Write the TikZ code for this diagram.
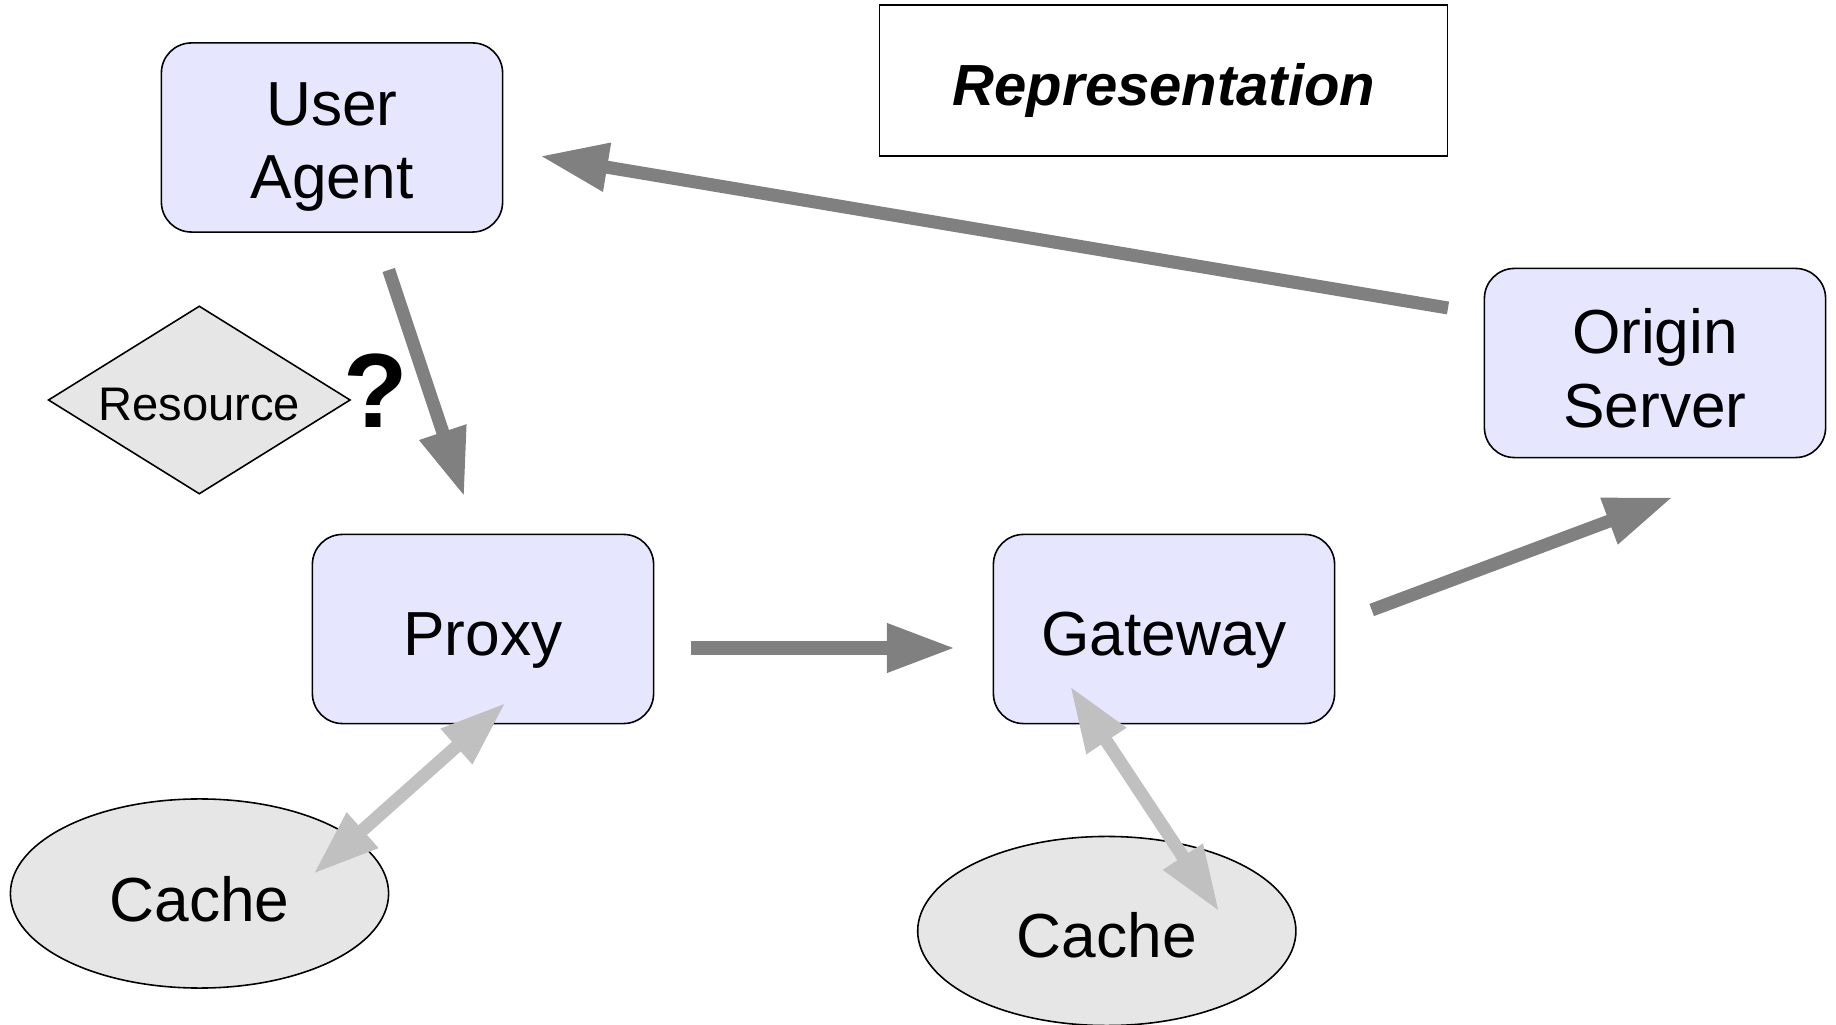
\documentclass[tikz,border=0pt]{standalone}
\usepackage{fontspec}
\setmainfont{Liberation Sans}
\usetikzlibrary{arrows.meta,shapes.geometric}

\definecolor{boxfill}{HTML}{E6E6FF}
\definecolor{greyfill}{HTML}{E6E6E6}
\definecolor{flowgrey}{HTML}{808080}
\definecolor{cachegrey}{HTML}{C0C0C0}

\begin{document}
\begin{tikzpicture}[x=0.01cm, y=-0.01cm,
  labelfont/.style={font=\fontsize{17.7pt}{21pt}\selectfont, inner sep=0pt, align=center},
  agent/.style={draw=black, line width=0.45pt, fill=boxfill,
    rounded corners=0.3cm, minimum width=3.41cm, minimum height=1.89cm,
    inner sep=0pt},
  store/.style={draw=black, line width=0.45pt, fill=greyfill,
    ellipse, minimum width=3.78cm, minimum height=1.89cm, inner sep=0pt},
  flow/.style={draw=flowgrey, line width=0.13cm,
    -{Triangle[length=0.68cm,width=0.46cm]}},
  cacheflow/.style={draw=cachegrey, line width=0.13cm,
    {Triangle[length=0.66cm,width=0.44cm]}-{Triangle[length=0.66cm,width=0.44cm]}},
]
  % canvas
  \useasboundingbox (0,0) rectangle (1836,1025);

  % message label
  \node[draw=black, line width=0.45pt, fill=white, minimum width=5.68cm,
        minimum height=1.51cm, inner sep=0pt] (repr) at (1163.5,80.5) {};
  \node[font=\fontsize{16.5pt}{19pt}\selectfont\bfseries\itshape,
        inner sep=0pt, anchor=base] (repr-text) at (1164,106) {Representation};

  % participants
  \node[agent] (ua)      at (332,137.5) {};
  \node[agent] (proxy)   at (483,629)   {};
  \node[agent] (gateway) at (1164,629)  {};
  \node[agent] (origin)  at (1655,363)  {};
  \node[labelfont] (ua-text)      at (332,147)  {User\\Agent};
  \node[labelfont] (origin-text)  at (1655,368) {Origin\\Server};
  \node[labelfont, anchor=base] (proxy-text)   at (483,656)  {Proxy};
  \node[labelfont, anchor=base] (gateway-text) at (1164,656) {Gateway};

  % resource being requested
  \node[diamond, aspect=1.6, draw=black, line width=0.45pt, fill=greyfill,
        minimum width=3.02cm, minimum height=1.88cm, inner sep=0pt]
        (resource) at (199.3,400) {};
  \node[font=\fontsize{13.4pt}{16pt}\selectfont, inner sep=0pt, anchor=base]
        (resource-text) at (199.3,421) {Resource};
  \node[font=\fontsize{30pt}{34pt}\selectfont\bfseries, inner sep=0pt, anchor=base]
        (query) at (375.5,428) {?};

  % caches
  \node[store] (cacheA) at (199.5,893.5) {};
  \node[store] (cacheB) at (1106.8,931)  {};
  \node[labelfont, anchor=base] (cacheA-text) at (199.5,921)  {Cache};
  \node[labelfont, anchor=base] (cacheB-text) at (1106.8,958) {Cache};

  % free ends of the connectors
  \coordinate (reqFrom)   at (388.7,270);
  \coordinate (reqTo)     at (464.3,496.7);
  \coordinate (fwdFrom)   at (691,648);
  \coordinate (fwdTo)     at (955,648);
  \coordinate (upFrom)    at (1371.7,610);
  \coordinate (upTo)      at (1672.7,497.3);
  \coordinate (replyFrom) at (1448,308);
  \coordinate (replyTo)   at (540,156);
  \coordinate (pcA)       at (313.3,874);
  \coordinate (pcB)       at (505.7,702.7);
  \coordinate (gcA)       at (1070,686);
  \coordinate (gcB)       at (1219.3,911.7);

  % request path and response
  \draw[flow] (reqFrom) -- (reqTo);
  \draw[flow] (fwdFrom) -- (fwdTo);
  \draw[flow] (upFrom) -- (upTo);
  \draw[flow] (replyFrom) -- (replyTo);

  % cache lookups
  \draw[cacheflow] (pcA) -- (pcB);
  \draw[cacheflow] (gcA) -- (gcB);
\end{tikzpicture}
\end{document}
